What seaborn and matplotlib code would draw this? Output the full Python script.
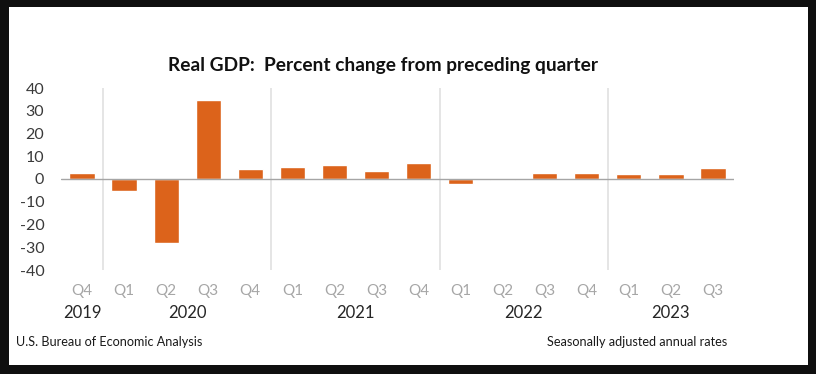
import matplotlib
matplotlib.use("Agg")
import matplotlib.pyplot as plt
import matplotlib.transforms as mtransforms
from matplotlib.patches import Rectangle
import seaborn as sns
import pandas as pd

quarters = ["Q4", "Q1", "Q2", "Q3", "Q4", "Q1", "Q2", "Q3", "Q4",
            "Q1", "Q2", "Q3", "Q4", "Q1", "Q2", "Q3"]
years = [2019, 2020, 2020, 2020, 2020, 2021, 2021, 2021, 2021,
         2022, 2022, 2022, 2022, 2023, 2023, 2023]
values = [2.6, -5.3, -28.0, 34.8, 4.2, 5.2, 6.2, 3.3, 7.0,
          -2.0, -0.6, 2.7, 2.6, 2.2, 2.1, 4.9]
year_labels = ["2019", "2020", "2021", "2022", "2023"]
yticks = [-40, -30, -20, -10, 0, 10, 20, 30, 40]

df = pd.DataFrame({"period": [f"{y} {q}" for y, q in zip(years, quarters)],
                   "value": values})

sns.set_theme(style="white")
plt.rcParams["font.family"] = ["Lato", "DejaVu Sans"]

W, H = 816, 374
fig = plt.figure(figsize=(W / 100, H / 100), dpi=100)
fig.patch.set_facecolor("#0f0f0f")
fig.add_artist(Rectangle((9 / W, 9 / H), (808 - 9) / W, (367 - 9) / H,
                         transform=fig.transFigure, facecolor="white",
                         edgecolor="none", zorder=0))

ax = fig.add_axes([61 / W, (H - 270) / H, (734 - 61) / W, (270 - 88) / H])
ax.set_facecolor("none")

sns.barplot(data=df, x="period", y="value", order=list(df["period"]),
            color="#dc631b", saturation=1, width=0.6, ax=ax, zorder=3)

ax.set_xlim(-0.5, len(values) - 0.5)
ax.set_ylim(-40, 40)
ax.set_yticks(yticks)
ax.set_yticklabels([str(t) for t in yticks], fontsize=11.5, color="#3a3a3a")
ax.set_xticks(range(len(values)))
ax.set_xticklabels(quarters, fontsize=11, color="#a6a6a6")
ax.tick_params(axis="x", length=0, pad=10)
ax.tick_params(axis="y", length=0, pad=12)
for s in ax.spines.values():
    s.set_visible(False)
ax.set_xlabel("")
ax.set_ylabel("")

ax.axhline(0, color="#a5a5a5", lw=1.0, zorder=4)

# year separators
bounds = [i - 0.5 for i in range(1, len(years)) if years[i] != years[i - 1]]
for b in bounds:
    ax.axvline(b, color="#e0e0e0", lw=1.2, zorder=1)

# year labels centred under each group
trans = mtransforms.blended_transform_factory(ax.transData, ax.transAxes)
for yl in year_labels:
    idx = [i for i, y in enumerate(years) if str(y) == yl]
    cx = sum(idx) / len(idx)
    ax.text(cx, -0.235, yl, transform=trans, ha="center", va="center",
            fontsize=12, color="#262626")

fig.text(383 / W, 1 - 65 / H, "Real GDP:  Percent change from preceding quarter",
         ha="center", va="center", fontsize=13.8, fontweight="bold", color="#111111")
fig.text(16 / W, 1 - 342 / H, "U.S. Bureau of Economic Analysis",
         ha="left", va="center", fontsize=9.1, color="#1a1a1a")
fig.text(727 / W, 1 - 342 / H, "Seasonally adjusted annual rates",
         ha="right", va="center", fontsize=9.1, color="#1a1a1a")

fig.savefig("out.png", dpi=100, facecolor=fig.get_facecolor())
